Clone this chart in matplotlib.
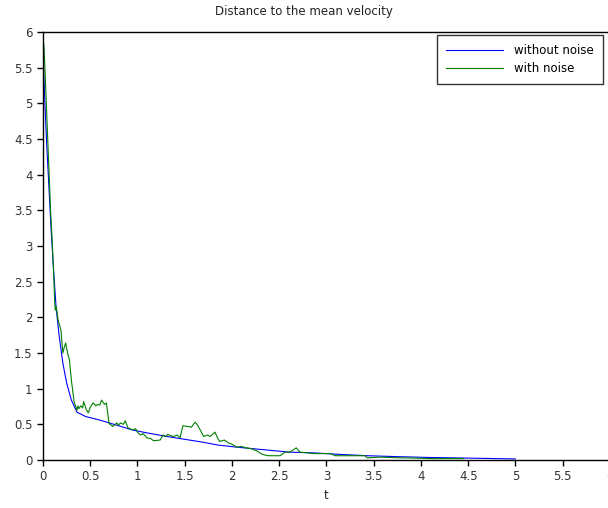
import matplotlib
matplotlib.use("Agg")
import matplotlib.pyplot as plt

# "without noise" curve
t_clean = [0.0, 0.02, 0.04, 0.06, 0.085, 0.11, 0.138, 0.17, 0.21, 0.25, 0.30, 0.36,
           0.45, 0.6, 0.8, 0.95, 1.1, 1.31, 1.5, 1.69, 1.85, 2.05, 2.37, 2.61,
           2.86, 3.12, 3.43, 3.78, 4.1, 4.43, 5.0]
v_clean = [5.7, 5.0, 4.4, 3.9, 3.25, 2.7, 2.15, 1.75, 1.36, 1.08, 0.84, 0.67,
           0.61, 0.56, 0.48, 0.42, 0.38, 0.33, 0.29, 0.25, 0.21, 0.18, 0.14, 0.11,
           0.1, 0.08, 0.06, 0.046, 0.035, 0.028, 0.015]

# "with noise" curve
t_noise = [0.0, 0.005, 0.01, 0.02, 0.035, 0.05, 0.065, 0.08, 0.1, 0.115, 0.124,
           0.13, 0.14, 0.16, 0.19, 0.21, 0.225, 0.24, 0.26, 0.28, 0.30, 0.33,
           0.36, 0.37, 0.38, 0.40, 0.42, 0.43, 0.45, 0.46, 0.48, 0.50, 0.53,
           0.56, 0.58, 0.6, 0.62, 0.65, 0.67, 0.70, 0.72, 0.74, 0.78, 0.80,
           0.82, 0.85, 0.87, 0.9, 0.95, 0.98, 1.0, 1.03, 1.06, 1.1, 1.14,
           1.17, 1.24, 1.27, 1.3, 1.32, 1.35, 1.38, 1.42, 1.45, 1.48, 1.53,
           1.57, 1.61, 1.63, 1.66, 1.70, 1.74, 1.77, 1.82, 1.85, 1.87, 1.92,
           1.96, 2.0, 2.05, 2.1, 2.15, 2.2, 2.26, 2.32, 2.38, 2.51, 2.56,
           2.61, 2.68, 2.72, 2.8, 2.86, 3.04, 3.09, 3.41, 3.43, 3.57, 3.78,
           3.86, 4.1, 4.45]
v_noise = [5.6, 5.85, 5.8, 5.5, 5.0, 4.5, 4.0, 3.5, 3.0, 2.55, 2.2,
           2.1, 2.15, 1.96, 1.82, 1.5, 1.58, 1.64, 1.5, 1.4, 1.12, 0.81,
           0.7, 0.76, 0.72, 0.76, 0.73, 0.82, 0.74, 0.7, 0.66, 0.74, 0.8,
           0.76, 0.78, 0.77, 0.84, 0.78, 0.8, 0.51, 0.49, 0.47, 0.52, 0.49,
           0.52, 0.5, 0.55, 0.45, 0.42, 0.44, 0.39, 0.35, 0.37, 0.31, 0.3,
           0.27, 0.28, 0.35, 0.33, 0.36, 0.34, 0.33, 0.35, 0.31, 0.48, 0.47,
           0.46, 0.53, 0.5, 0.43, 0.33, 0.35, 0.33, 0.39, 0.3, 0.26, 0.28,
           0.24, 0.22, 0.18, 0.19, 0.17, 0.16, 0.13, 0.08, 0.06, 0.06, 0.11,
           0.11, 0.17, 0.11, 0.1, 0.09, 0.09, 0.06, 0.06, 0.03, 0.04, 0.03,
           0.03, 0.02, 0.02]

x_ticks = [0, 0.5, 1, 1.5, 2, 2.5, 3, 3.5, 4, 4.5, 5, 5.5, 6]
y_ticks = [0, 0.5, 1, 1.5, 2, 2.5, 3, 3.5, 4, 4.5, 5, 5.5, 6]

fig = plt.figure(figsize=(6.08, 5.08), dpi=100)
ax = fig.add_axes([43 / 608, 48 / 508, 567 / 608, 428 / 508])

ax.plot(t_clean, v_clean, color='#0000ff', lw=0.8, label='without noise')
ax.plot(t_noise, v_noise, color='#008000', lw=0.8, label='with noise')

ax.set_xlim(0, 6)
ax.set_ylim(0, 6)
ax.set_xticks(x_ticks)
ax.set_yticks(y_ticks)
ax.set_xticklabels([f"{v:g}" for v in x_ticks])
ax.set_yticklabels([f"{v:g}" for v in y_ticks])
ax.tick_params(direction='out', length=4, width=1, labelsize=8.5, labelcolor='#333333')
for s in ax.spines.values():
    s.set_linewidth(1)

ax.set_xlabel('t', fontsize=8.5, color='#222222')
fig.text(0.5, 1 - 12 / 508, 'Distance to the mean velocity', ha='center', va='center',
         fontsize=8.5, color='#222222')

leg = ax.legend(loc='upper right', bbox_to_anchor=(603 / 608, 1 - 35 / 508),
                bbox_transform=fig.transFigure, fontsize=8.5, fancybox=False,
                framealpha=1, edgecolor='#333333', handlelength=4.8,
                handletextpad=1.0, borderpad=0.75, labelspacing=0.45,
                borderaxespad=0)
leg.get_frame().set_linewidth(1)

fig.savefig('out.png', dpi=100)
